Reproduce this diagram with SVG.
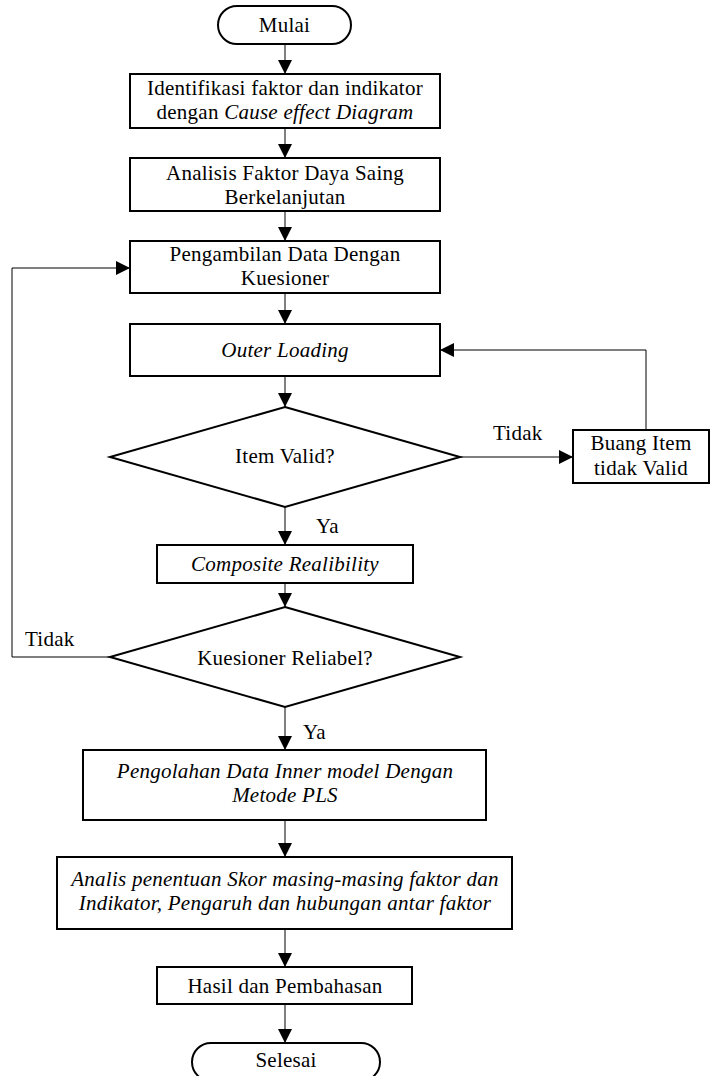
<svg xmlns="http://www.w3.org/2000/svg" width="711" height="1076" viewBox="0 0 711 1076">
<defs>
<style>
.box{fill:#fff;stroke:#000;stroke-width:2}
text{font-family:'Liberation Serif','Times New Roman',Times,'DejaVu Serif',serif;font-size:21px;fill:#000;letter-spacing:0.25px}
.t{text-anchor:middle}
.i{font-style:italic}
.c{fill:none;stroke:#000;stroke-width:1}
</style>
<marker id="ah" viewBox="0 0 14 14" refX="14" refY="7" markerWidth="14" markerHeight="14" markerUnits="userSpaceOnUse" orient="auto">
<path d="M0,0 L14,7 L0,14 Z" fill="#000"/>
</marker>
</defs>
<rect width="711" height="1076" fill="#fff"/>
<g id="connectors">
<line class="c" x1="285" y1="44" x2="285" y2="74" marker-end="url(#ah)"/>
<line class="c" x1="285" y1="128" x2="285" y2="158" marker-end="url(#ah)"/>
<line class="c" x1="285" y1="211" x2="285" y2="241" marker-end="url(#ah)"/>
<line class="c" x1="285" y1="293" x2="285" y2="324" marker-end="url(#ah)"/>
<line class="c" x1="285" y1="376" x2="285" y2="407" marker-end="url(#ah)"/>
<line class="c" x1="460" y1="457" x2="573" y2="457" marker-end="url(#ah)"/>
<polyline class="c" points="646,430 646,350 440,350" marker-end="url(#ah)"/>
<line class="c" x1="285" y1="507" x2="285" y2="545" marker-end="url(#ah)"/>
<line class="c" x1="285" y1="583" x2="285" y2="607" marker-end="url(#ah)"/>
<polyline class="c" points="110,657 12,657 12,268 130,268" marker-end="url(#ah)"/>
<line class="c" x1="285" y1="707" x2="285" y2="750" marker-end="url(#ah)"/>
<line class="c" x1="285" y1="820" x2="285" y2="857" marker-end="url(#ah)"/>
<line class="c" x1="285" y1="929" x2="285" y2="967" marker-end="url(#ah)"/>
<line class="c" x1="285" y1="1004" x2="285" y2="1043" marker-end="url(#ah)"/>
<text x="493" y="440">Tidak</text>
<text x="316" y="533">Ya</text>
<text x="25" y="646">Tidak</text>
<text x="303" y="739">Ya</text>
</g>
<g id="mulai">
<rect class="box" x="218" y="6" width="133" height="38" rx="19" ry="19"/>
<text class="t" x="284.5" y="32">Mulai</text>
</g>
<g id="identifikasi">
<rect class="box" x="130" y="74" width="310" height="54"/>
<text class="t" x="285" y="95">Identifikasi faktor dan indikator</text>
<text class="t" x="285" y="119">dengan <tspan class="i">Cause effect Diagram</tspan></text>
</g>
<g id="analisis">
<rect class="box" x="130" y="158" width="310" height="53"/>
<text class="t" x="285" y="180">Analisis Faktor Daya Saing</text>
<text class="t" x="285" y="204">Berkelanjutan</text>
</g>
<g id="pengambilan">
<rect class="box" x="130" y="241" width="310" height="52"/>
<text class="t" x="285" y="261">Pengambilan Data Dengan</text>
<text class="t" x="285" y="285">Kuesioner</text>
</g>
<g id="outer">
<rect class="box" x="130" y="324" width="310" height="52"/>
<text class="t i" x="285" y="357">Outer Loading</text>
</g>
<g id="valid">
<polygon class="box" points="285,407 460,457 285,507 110,457"/>
<text class="t" x="285" y="463">Item Valid?</text>
</g>
<g id="buang">
<rect class="box" x="573" y="430" width="136" height="53"/>
<text class="t" x="641" y="450">Buang Item</text>
<text class="t" x="641" y="475">tidak Valid</text>
</g>
<g id="composite">
<rect class="box" x="157" y="545" width="256" height="38"/>
<text class="t i" x="285" y="571">Composite Realibility</text>
</g>
<g id="reliabel">
<polygon class="box" points="285,607 460,657 285,707 110,657"/>
<text class="t" x="285" y="665">Kuesioner Reliabel?</text>
</g>
<g id="pengolahan">
<rect class="box" x="83" y="750" width="403" height="70"/>
<text class="t i" x="285" y="778">Pengolahan Data Inner model Dengan</text>
<text class="t i" x="285" y="802">Metode PLS</text>
</g>
<g id="analis">
<rect class="box" x="57" y="857" width="455" height="72"/>
<text class="t i" x="285" y="886">Analis penentuan Skor masing-masing faktor dan</text>
<text class="t i" x="285" y="910">Indikator, Pengaruh dan hubungan antar faktor</text>
</g>
<g id="hasil">
<rect class="box" x="157" y="967" width="255" height="37"/>
<text class="t" x="285" y="993">Hasil dan Pembahasan</text>
</g>
<g id="selesai">
<rect class="box" x="192" y="1043" width="188" height="38" rx="19" ry="19"/>
<text class="t" x="286" y="1067">Selesai</text>
</g>
</svg>
